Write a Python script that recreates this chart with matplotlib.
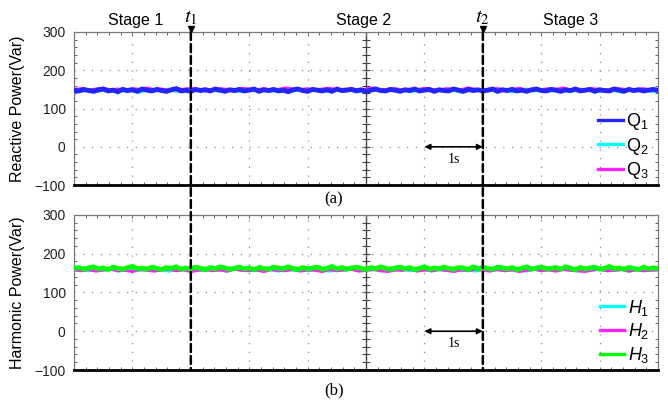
import numpy as np
import matplotlib
matplotlib.use("Agg")
import matplotlib.pyplot as plt
from matplotlib.ticker import MultipleLocator, NullFormatter
from matplotlib.patches import ConnectionPatch
from matplotlib.lines import Line2D

plt.rcParams["font.family"] = ["Liberation Sans", "DejaVu Sans"]
plt.rcParams["mathtext.fontset"] = "custom"
plt.rcParams["mathtext.rm"] = "Liberation Sans"
plt.rcParams["mathtext.it"] = "Liberation Sans:italic"

# ---- measured power traces (Var) ----
q1 = [148, 146, 150, 147, 145, 149, 151, 146, 148, 144, 150, 147, 149, 145, 151, 148, 146, 150, 147, 145,
      149, 152, 146, 148, 145, 150, 147, 149, 146, 151, 148, 145, 149, 147, 150, 146, 148, 151, 145, 149,
      147, 150, 146, 148, 144, 149, 151, 147, 145, 150, 148, 146, 149, 145, 151, 147, 148, 150, 146, 149,
      145, 148, 151, 147, 146, 150, 148, 145, 149, 147, 151, 146, 148, 150, 145, 149, 147, 146, 151, 148,
      145, 150, 147, 149, 146, 148, 151, 145, 149, 147, 150, 146, 148, 145, 149, 151, 147, 146, 150, 148,
      145, 149, 147, 151, 146, 148, 150, 145, 149, 147, 146, 151, 148, 145, 150, 147, 149, 146, 148, 150, 147]
q2 = [147, 145, 149, 144, 148, 146, 150, 145, 147, 143, 149, 146, 148, 151, 145, 147, 144, 149, 146, 148,
      145, 150, 147, 144, 148, 146, 149, 145, 147, 152, 146, 148, 144, 149, 147, 145, 150, 146, 148, 144,
      147, 149, 145, 151, 146, 148, 144, 147, 150, 145, 149, 146, 148, 143, 147, 150, 145, 148, 146, 149,
      144, 147, 151, 146, 148, 145, 149, 147, 144, 150, 146, 148, 145, 149, 147, 143, 148, 146, 150, 145, 147]
q3 = [150, 152, 148, 151, 153, 149, 151, 148, 152, 150, 154, 149, 151, 148, 152, 150, 153, 149, 151, 147,
      152, 150, 148, 153, 151, 149, 152, 148, 150, 154, 151, 149, 152, 148, 151, 153, 149, 150, 152, 148,
      151, 154, 149, 150, 152, 148, 151, 149, 153, 150, 148, 152, 151, 149, 154, 150, 148, 151, 152, 149,
      150, 153, 148, 151, 149, 152, 150, 154, 148, 151, 149, 152, 150, 148, 153, 151, 149, 150, 152, 148, 151]
h1 = [158, 160, 156, 159, 157, 161, 155, 158, 160, 157, 162, 156, 159, 155, 158, 161, 157, 159, 156, 160,
      158, 155, 161, 157, 159, 156, 163, 158, 155, 160, 157, 159, 156, 161, 158, 155, 159, 157, 160, 156,
      158, 162, 155, 159, 157, 161, 156, 158, 160, 155, 159, 157, 162, 156, 158, 155, 160, 157, 159, 156,
      161, 158, 155, 160, 157, 159, 156, 162, 158, 155, 159, 157, 160, 156, 158, 161, 155, 159, 157, 160, 158]
h2 = [158, 156, 159, 155, 158, 160, 156, 157, 154, 159, 157, 155, 158, 160, 156, 158, 154, 157, 159, 156,
      158, 155, 160, 157, 156, 158, 154, 159, 157, 156, 160, 155, 158, 157, 154, 159, 156, 158, 160, 155,
      157, 159, 156, 154, 158, 157, 160, 155, 158, 156, 159, 157, 154, 158, 156, 160, 157, 155, 159, 156,
      158, 154, 157, 160, 156, 158, 155, 159, 157, 156, 154, 158, 160, 156, 157, 159, 155, 158, 156, 157, 158]
h3 = [162, 164, 160, 163, 166, 161, 163, 159, 165, 162, 160, 164, 167, 161, 163, 160, 165, 162, 159, 164,
      162, 166, 160, 163, 161, 165, 162, 159, 164, 161, 166, 163, 160, 162, 165, 161, 163, 159, 164, 162,
      160, 165, 163, 161, 166, 162, 159, 164, 161, 163, 165, 160, 162, 167, 161, 164, 160, 163, 165, 162,
      159, 164, 161, 166, 162, 160, 163, 165, 161, 164, 159, 162, 166, 160, 163, 161, 165, 162, 160, 164,
      163, 159, 166, 161, 164, 162, 160, 165, 163, 161, 164, 159, 162, 166, 160, 163, 165, 161, 162, 164,
      160, 166, 162, 159, 164, 161, 163, 165, 160, 162, 167, 161, 163, 160, 164, 162, 159, 165, 161, 163, 162]

t_end = 10.0            # s, 1 s per division
t_switch = [2.0, 7.0]   # switching instants t1, t2
stage_labels = ["Stage 1", "Stage 2", "Stage 3"]
stage_pos = [1.05, 4.95, 8.5]
y_ticks = [-100, 0, 100, 200, 300]

BLUE, CYAN, MAGENTA, GREEN = "#2424ff", "#00ffff", "#ff22ff", "#00ff00"

fig = plt.figure(figsize=(6.68, 4.05), dpi=100)
ax1 = fig.add_axes([0.1108, 0.543, 0.8743, 0.378])
ax2 = fig.add_axes([0.1108, 0.0864, 0.8743, 0.383])

grid_c = "#8c8c8c"


def style_axes(ax, ylabel):
    ax.set_xlim(0, t_end)
    ax.set_ylim(-100, 300)
    ax.set_yticks(y_ticks)
    ax.xaxis.set_major_locator(MultipleLocator(1))
    ax.xaxis.set_minor_locator(MultipleLocator(0.2))
    ax.yaxis.set_minor_locator(MultipleLocator(20))
    ax.xaxis.set_major_formatter(NullFormatter())
    ax.tick_params(which="both", direction="in", top=True, right=True,
                   length=2.5, width=0.7, color="#606060", labelsize=10, pad=6)
    ax.tick_params(axis="y", which="major", length=0)
    ax.grid(True, which="major", color=grid_c, linestyle=(0, (1, 6)), linewidth=0.9)
    for s in ("left", "top", "right"):
        ax.spines[s].set_color("#7a7a7a")
        ax.spines[s].set_linewidth(0.9)
    ax.spines["bottom"].set_color("black")
    ax.spines["bottom"].set_linewidth(2.0)
    # solid centre line with its own minor ticks
    ax.axvline(t_end / 2, color="#404040", linewidth=1.0, zorder=1)
    yt = np.arange(-100, 301, 20)
    ax.plot(np.full(len(yt), t_end / 2), yt, linestyle="none", marker="_",
            markersize=6, markeredgewidth=0.8, color="#404040", zorder=1)
    ax.set_ylabel(ylabel, fontsize=11.5)
    ax.yaxis.set_label_coords(-0.084, 0.5)
    for lbl in ax.get_yticklabels():
        lbl.set_color("#222222")


style_axes(ax1, "Reactive Power(Var)")
style_axes(ax2, "Harmonic Power(Var)")


def trace(ax, y, color, z, lw):
    t = np.linspace(0, t_end, len(y))
    ax.plot(t, y, color=color, linewidth=lw, zorder=z, solid_joinstyle="miter")


trace(ax1, q2, CYAN, 3, 2.2)
trace(ax1, q3, MAGENTA, 4, 2.2)
trace(ax1, q1, BLUE, 5, 3.5)

trace(ax2, h1, CYAN, 3, 2.2)
trace(ax2, h2, MAGENTA, 4, 2.2)
trace(ax2, h3, GREEN, 5, 3.5)

legend_kw = dict(loc="lower right", frameon=False, fontsize=13,
                 handlelength=1.35, handletextpad=0.2, labelspacing=0.2,
                 borderaxespad=0.1)
ax1.legend([Line2D([], [], color=c, lw=2.4) for c in (BLUE, CYAN, MAGENTA)],
           ["Q$_1$", "Q$_2$", "Q$_3$"], bbox_to_anchor=(1.0, -0.035), **legend_kw)
ax2.legend([Line2D([], [], color=c, lw=2.4) for c in (CYAN, MAGENTA, GREEN)],
           ["$H_1$", "$H_2$", "$H_3$"], bbox_to_anchor=(1.0, -0.025), **legend_kw)

# switching instants spanning both panels
for i, ts in enumerate(t_switch):
    con = ConnectionPatch(xyA=(ts, 300), coordsA=ax1.transData,
                          xyB=(ts, -100), coordsB=ax2.transData,
                          color="black", linewidth=1.8,
                          linestyle=(0, (3.2, 1.6)), zorder=6)
    fig.add_artist(con)
    ax1.plot([ts], [307], marker="v", markersize=5, color="black",
             clip_on=False, zorder=7)
    ax1.text(ts, 312, r"$t_{%d}$" % (i + 1), ha="center", va="bottom",
             fontsize=15, math_fontfamily="stix")

for lab, xp in zip(stage_labels, stage_pos):
    ax1.text(xp, 1.075, lab, transform=ax1.get_xaxis_transform(),
             ha="center", va="center", fontsize=11.5)

# 1 s scale marker
for ax in (ax1, ax2):
    ax.annotate("", xy=(t_switch[1], 0), xytext=(t_switch[1] - 1, 0),
                arrowprops=dict(arrowstyle="<|-|>", color="black", lw=1.2,
                                mutation_scale=8, shrinkA=0, shrinkB=0))
    ax.text(t_switch[1] - 0.5, -32, "1s", ha="center", va="center",
            fontsize=10, family="Liberation Serif")

fig.text(0.5, 1 - 199 / 405, "(a)", ha="center", va="center",
         fontsize=12, family="Liberation Serif")
fig.text(0.5, 1 - 390 / 405, "(b)", ha="center", va="center",
         fontsize=12, family="Liberation Serif")

fig.savefig("out.png", dpi=100)
